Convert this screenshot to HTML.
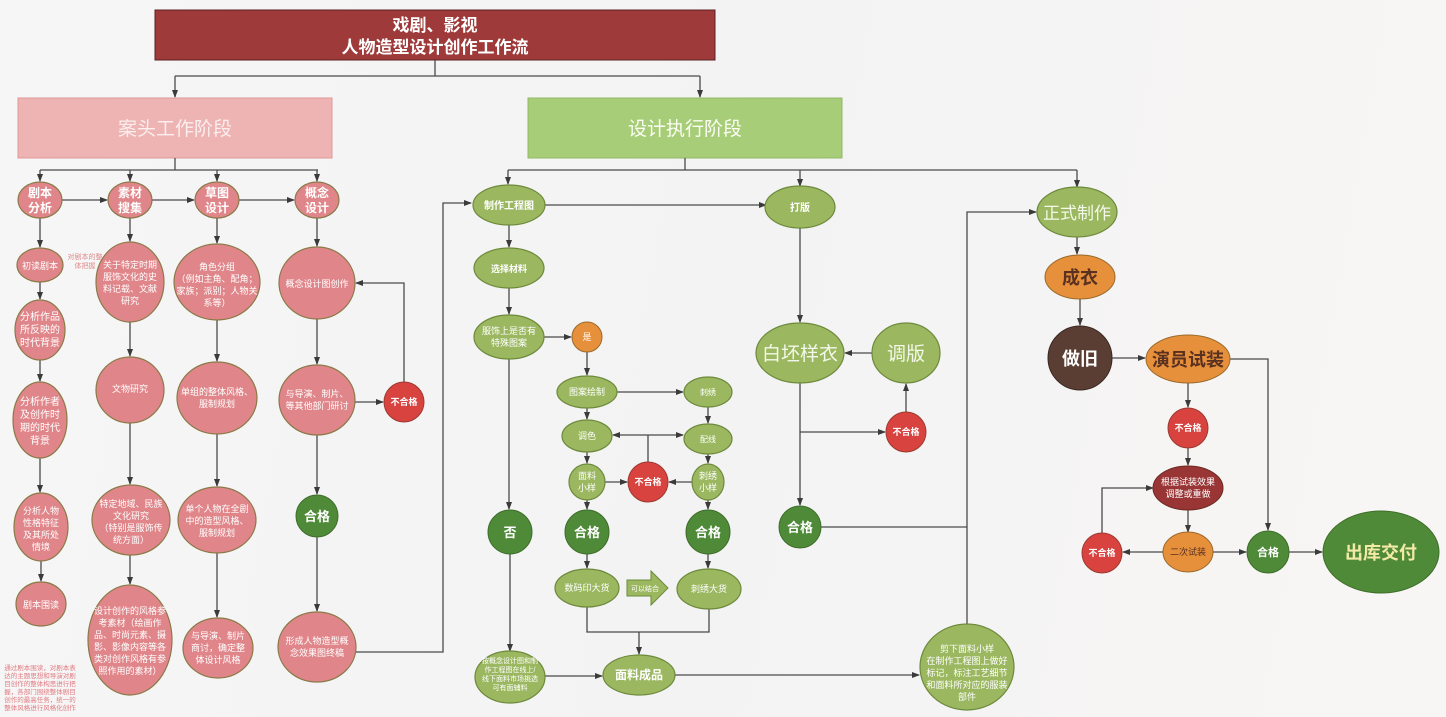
<!DOCTYPE html>
<html><head><meta charset="utf-8"><style>
html,body{margin:0;padding:0;}
body{width:1446px;height:717px;overflow:hidden;background:linear-gradient(100deg,#f7f6f6 0%,#f3f3f4 50%,#f8f6f4 100%);}
svg{display:block;font-family:"Liberation Sans","Noto Sans CJK SC",sans-serif;}
.p{fill:#e0868a;stroke:#8a7a48;stroke-width:1.2}
.g{fill:#9bb860;stroke:#6d8a3c;stroke-width:1.2}
.dg{fill:#4f8a38;stroke:#3e6e2a;stroke-width:1}
.r{fill:#d9433f;stroke:#9b3a30;stroke-width:1}
.o{fill:#e6903c;stroke:#9a6a2a;stroke-width:1}
.l{stroke:#4a4a4a;stroke-width:1.3;fill:none}
text{fill:#fff;text-anchor:middle}
.s{font-size:10px}
.m{font-size:9px}
.b{font-weight:bold;font-size:12px}
</style></head><body>
<svg width="1446" height="717" viewBox="0 0 1446 717">
<defs><marker id="a" markerWidth="8" markerHeight="8" refX="7" refY="4" orient="auto" markerUnits="userSpaceOnUse"><path d="M0,1 L8,4 L0,7z" fill="#3a3a3a"/></marker></defs>

<!-- title -->
<rect x="155" y="10" width="560" height="50" fill="#9f3a3a" stroke="#5a2020"/>
<text x="435" y="31" style="font-size:17px;font-weight:bold">戏剧、影视</text>
<text x="435" y="53" style="font-size:17px;font-weight:bold">人物造型设计创作工作流</text>
<path class="l" d="M435,60 V76 M175,76 H700"/>
<path class="l" d="M175,76 V97" marker-end="url(#a)"/><path class="l" d="M700,76 V97" marker-end="url(#a)"/>
<rect x="18" y="98" width="314" height="60" fill="#eeb3b3" stroke="#e09a9a"/>
<text x="175" y="135" style="font-size:19px;fill:#fbeeee">案头工作阶段</text>
<rect x="528" y="98" width="314" height="60" fill="#a8cd78" stroke="#92b866"/>
<text x="685" y="135" style="font-size:19px;fill:#fbfdf4">设计执行阶段</text>

<!-- left connectors -->
<path class="l" d="M175,158 V170 M40,170 H318"/>
<path class="l" d="M40,170 V181" marker-end="url(#a)"/><path class="l" d="M130,170 V181" marker-end="url(#a)"/>
<path class="l" d="M217,170 V181" marker-end="url(#a)"/><path class="l" d="M317,170 V181" marker-end="url(#a)"/>
<path class="l" d="M62,200 H107" marker-end="url(#a)"/><path class="l" d="M152,200 H194" marker-end="url(#a)"/><path class="l" d="M239,200 H294" marker-end="url(#a)"/>
<path class="l" d="M40,218 V247" marker-end="url(#a)"/><path class="l" d="M40,282 V299" marker-end="url(#a)"/><path class="l" d="M40,360 V381" marker-end="url(#a)"/><path class="l" d="M40,458 V492" marker-end="url(#a)"/><path class="l" d="M41,561 V581" marker-end="url(#a)"/>
<path class="l" d="M130,218 V241" marker-end="url(#a)"/><path class="l" d="M130,322 V356" marker-end="url(#a)"/><path class="l" d="M130,423 V484" marker-end="url(#a)"/><path class="l" d="M130,555 V584" marker-end="url(#a)"/>
<path class="l" d="M217,218 V243" marker-end="url(#a)"/><path class="l" d="M217,320 V361" marker-end="url(#a)"/><path class="l" d="M217,434 V486" marker-end="url(#a)"/><path class="l" d="M217,553 V617" marker-end="url(#a)"/>
<path class="l" d="M317,218 V246" marker-end="url(#a)"/><path class="l" d="M317,319 V364" marker-end="url(#a)"/><path class="l" d="M355,402 H383" marker-end="url(#a)"/><path class="l" d="M404,382 V283 H356" marker-end="url(#a)"/><path class="l" d="M317,435 V494" marker-end="url(#a)"/><path class="l" d="M317,537 V611" marker-end="url(#a)"/>
<path class="l" d="M356,652 H443 V203 H471" marker-end="url(#a)"/>

<!-- left nodes -->
<ellipse class="p" cx="40" cy="200" rx="22" ry="18"/><text class="b" x="40" y="197">剧本</text><text class="b" x="40" y="212">分析</text>
<ellipse class="p" cx="130" cy="200" rx="22" ry="18"/><text class="b" x="130" y="197">素材</text><text class="b" x="130" y="212">搜集</text>
<ellipse class="p" cx="217" cy="200" rx="22" ry="18"/><text class="b" x="217" y="197">草图</text><text class="b" x="217" y="212">设计</text>
<ellipse class="p" cx="317" cy="200" rx="22" ry="18"/><text class="b" x="317" y="197">概念</text><text class="b" x="317" y="212">设计</text>

<ellipse class="p" cx="40" cy="265" rx="23" ry="17"/><text class="m" x="40" y="269">初读剧本</text>
<text style="font-size:7px;fill:#e08a8c" x="85" y="259">对剧本的整</text><text style="font-size:7px;fill:#e08a8c" x="85" y="268">体把握</text>
<ellipse class="p" cx="40" cy="330" rx="25" ry="30"/><text class="s" x="40" y="320">分析作品</text><text class="s" x="40" y="333">所反映的</text><text class="s" x="40" y="346">时代背景</text>
<ellipse class="p" cx="40" cy="420" rx="27" ry="38"/><text class="s" x="40" y="405">分析作者</text><text class="s" x="40" y="418">及创作时</text><text class="s" x="40" y="431">期的时代</text><text class="s" x="40" y="444">背景</text>
<ellipse class="p" cx="41" cy="527" rx="27" ry="34"/><text class="m" x="41" y="514">分析人物</text><text class="m" x="41" y="526">性格特征</text><text class="m" x="41" y="538">及其所处</text><text class="m" x="41" y="550">情境</text>
<ellipse class="p" cx="41" cy="604" rx="25" ry="22"/><text class="m" x="41" y="608">剧本围读</text>
<g style="font-size:6.5px">
<text x="40" y="670" style="fill:#e07a80">通过剧本围读，对剧本表</text><text x="40" y="678" style="fill:#e07a80">达的主题思想和导演对剧</text><text x="40" y="686" style="fill:#e07a80">目创作的整体构思进行把</text><text x="40" y="694" style="fill:#e07a80">握，各部门围绕整体剧目</text><text x="40" y="702" style="fill:#e07a80">创作的最高任务，统一的</text><text x="40" y="710" style="fill:#e07a80">整体风格进行风格化创作</text></g>

<ellipse class="p" cx="130" cy="282" rx="34" ry="40"/><text class="m" x="130" y="268">关于特定时期</text><text class="m" x="130" y="280">服饰文化的史</text><text class="m" x="130" y="292">料记载、文献</text><text class="m" x="130" y="304">研究</text>
<ellipse class="p" cx="130" cy="390" rx="34" ry="33"/><text class="m" x="130" y="392">文物研究</text>
<ellipse class="p" cx="131" cy="520" rx="39" ry="35"/><text class="m" x="131" y="507">特定地域、民族</text><text class="m" x="131" y="519">文化研究</text><text class="m" x="131" y="531">（特别是服饰传</text><text class="m" x="131" y="543">统方面）</text>
<ellipse class="p" cx="130" cy="640" rx="42" ry="55"/><text class="m" x="130" y="614">设计创作的风格参</text><text class="m" x="130" y="626">考素材（绘画作</text><text class="m" x="130" y="638">品、时尚元素、摄</text><text class="m" x="130" y="650">影、影像内容等各</text><text class="m" x="130" y="662">类对创作风格有参</text><text class="m" x="130" y="674">照作用的素材）</text>

<ellipse class="p" cx="217" cy="282" rx="43" ry="38"/><text class="m" x="217" y="270">角色分组</text><text class="m" x="217" y="282">（例如主角、配角；</text><text class="m" x="217" y="294">家族；派别；人物关</text><text class="m" x="217" y="306">系等）</text>
<ellipse class="p" cx="217" cy="398" rx="40" ry="36"/><text class="m" x="217" y="395">单组的整体风格、</text><text class="m" x="217" y="407">服制规划</text>
<ellipse class="p" cx="217" cy="520" rx="39" ry="33"/><text class="m" x="217" y="512">单个人物在全剧</text><text class="m" x="217" y="524">中的造型风格、</text><text class="m" x="217" y="536">服制规划</text>
<ellipse class="p" cx="218" cy="648" rx="35" ry="30"/><text class="m" x="218" y="639">与导演、制片</text><text class="m" x="218" y="651">商讨，确定整</text><text class="m" x="218" y="663">体设计风格</text>

<ellipse class="p" cx="317" cy="283" rx="38" ry="36"/><text class="m" x="317" y="287">概念设计图创作</text>
<ellipse class="p" cx="317" cy="400" rx="38" ry="35"/><text class="m" x="317" y="397">与导演、制片、</text><text class="m" x="317" y="409">等其他部门研讨</text>
<circle class="r" cx="404" cy="402" r="20"/><text class="m" x="404" y="405" style="font-weight:bold">不合格</text>
<circle class="dg" cx="317" cy="516" r="21"/><text x="317" y="521" style="font-size:13px;font-weight:bold">合格</text>
<ellipse class="p" cx="317" cy="647" rx="39" ry="35"/><text class="m" x="317" y="644">形成人物造型概</text><text class="m" x="317" y="656">念效果图终稿</text>

<!-- right connectors -->
<path class="l" d="M685,158 V170 M508,170 H1077"/>
<path class="l" d="M508,170 V184" marker-end="url(#a)"/><path class="l" d="M800,170 V186" marker-end="url(#a)"/><path class="l" d="M1077,170 V187" marker-end="url(#a)"/>
<path class="l" d="M545,205 H766" marker-end="url(#a)"/>
<path class="l" d="M509,225 V247" marker-end="url(#a)"/><path class="l" d="M509,288 V314" marker-end="url(#a)"/>
<path class="l" d="M544,337 H571" marker-end="url(#a)"/><path class="l" d="M587,352 V375" marker-end="url(#a)"/>
<path class="l" d="M617,392 H683" marker-end="url(#a)"/><path class="l" d="M708,407 V423" marker-end="url(#a)"/>
<path class="l" d="M587,408 V419" marker-end="url(#a)"/>
<path class="l" d="M648,462 V435 M648,435 H613" marker-end="url(#a)"/><path class="l" d="M648,435 H683" marker-end="url(#a)"/>
<path class="l" d="M587,452 V463" marker-end="url(#a)"/><path class="l" d="M708,454 V463" marker-end="url(#a)"/>
<path class="l" d="M605,482 H627" marker-end="url(#a)"/><path class="l" d="M693,482 H669" marker-end="url(#a)"/>
<path class="l" d="M587,500 V509" marker-end="url(#a)"/><path class="l" d="M708,500 V509" marker-end="url(#a)"/>
<path class="l" d="M587,554 V568" marker-end="url(#a)"/><path class="l" d="M708,554 V568" marker-end="url(#a)"/>
<path class="l" d="M509,359 V509" marker-end="url(#a)"/><path class="l" d="M510,554 V651" marker-end="url(#a)"/>
<path class="l" d="M587,607 V632 H709 V609 M639,632 V654" marker-end="url(#a)"/>
<path class="l" d="M545,676 H602" marker-end="url(#a)"/>
<path class="l" d="M675,675 H919" marker-end="url(#a)"/>
<path class="l" d="M967,624 V212 H1036" marker-end="url(#a)"/>
<path class="l" d="M821,527 H967"/>
<path class="l" d="M800,227 V322" marker-end="url(#a)"/>
<path class="l" d="M872,353 H845" marker-end="url(#a)"/>
<path class="l" d="M800,383 V505" marker-end="url(#a)"/>
<path class="l" d="M800,432 H885" marker-end="url(#a)"/>
<path class="l" d="M906,412 V384" marker-end="url(#a)"/>
<path class="l" d="M1077,236 V254" marker-end="url(#a)"/><path class="l" d="M1080,299 V325" marker-end="url(#a)"/>
<path class="l" d="M1112,358 H1145" marker-end="url(#a)"/>
<path class="l" d="M1230,359 H1268 V530" marker-end="url(#a)"/>
<path class="l" d="M1188,383 V407" marker-end="url(#a)"/><path class="l" d="M1188,448 V465" marker-end="url(#a)"/><path class="l" d="M1188,510 V532" marker-end="url(#a)"/>
<path class="l" d="M1163,552 H1123" marker-end="url(#a)"/>
<path class="l" d="M1102,533 V488 H1153" marker-end="url(#a)"/>
<path class="l" d="M1213,552 H1246" marker-end="url(#a)"/><path class="l" d="M1289,552 H1322" marker-end="url(#a)"/>

<!-- right nodes -->
<ellipse class="g" cx="509" cy="205" rx="36" ry="20"/><text class="s" x="509" y="209" style="font-weight:bold">制作工程图</text>
<ellipse class="g" cx="800" cy="207" rx="35" ry="21"/><text class="s" x="800" y="211" style="font-weight:bold">打版</text>
<ellipse class="g" cx="1077" cy="212" rx="40" ry="25"/><text x="1077" y="219" style="font-size:17px;fill:#f4f8ea">正式制作</text>
<ellipse class="g" cx="509" cy="268" rx="35" ry="20"/><text class="m" x="509" y="272" style="font-weight:bold">选择材料</text>
<ellipse class="g" cx="509" cy="337" rx="35" ry="22"/><text class="m" x="509" y="334">服饰上是否有</text><text class="m" x="509" y="346">特殊图案</text>
<circle class="o" cx="587" cy="337" r="15"/><text class="m" x="587" y="340">是</text>
<ellipse class="g" cx="587" cy="392" rx="30" ry="16"/><text class="m" x="587" y="395">图案绘制</text>
<ellipse class="g" cx="708" cy="392" rx="24" ry="15"/><text x="708" y="395" style="font-size:8px">刺绣</text>
<ellipse class="g" cx="587" cy="436" rx="25" ry="16"/><text class="m" x="587" y="439">调色</text>
<ellipse class="g" cx="708" cy="439" rx="24" ry="15"/><text x="708" y="442" style="font-size:8px">配线</text>
<ellipse class="g" cx="587" cy="482" rx="18" ry="18"/><text class="m" x="587" y="479">面料</text><text class="m" x="587" y="491">小样</text>
<circle class="r" cx="648" cy="482" r="20"/><text class="m" x="648" y="485" style="font-weight:bold">不合格</text>
<ellipse class="g" cx="708" cy="482" rx="16" ry="18"/><text class="m" x="708" y="479">刺绣</text><text class="m" x="708" y="491">小样</text>
<circle class="dg" cx="510" cy="532" r="22"/><text x="510" y="537" style="font-size:13px;font-weight:bold">否</text>
<circle class="dg" cx="587" cy="532" r="22"/><text x="587" y="537" style="font-size:13px;font-weight:bold">合格</text>
<circle class="dg" cx="708" cy="532" r="22"/><text x="708" y="537" style="font-size:13px;font-weight:bold">合格</text>
<ellipse class="g" cx="587" cy="588" rx="32" ry="19"/><text class="m" x="587" y="591">数码印大货</text>
<path d="M627,580 H651 V571 L668,588 L651,605 V596 H627z" fill="#9bb860" stroke="#6d8a3c"/><text x="645" y="591" style="font-size:7px">可以结合</text>
<ellipse class="g" cx="709" cy="589" rx="32" ry="20"/><text class="m" x="709" y="592">刺绣大货</text>
<ellipse class="g" cx="510" cy="677" rx="35" ry="26"/><text x="510" y="663" style="font-size:7px">按概念设计图和制</text><text x="510" y="672" style="font-size:7px">作工程图在线上/</text><text x="510" y="681" style="font-size:7px">线下面料市场挑选</text><text x="510" y="690" style="font-size:7px">可有面辅料</text>
<ellipse class="g" cx="639" cy="675" rx="36" ry="20"/><text class="b" x="639" y="679">面料成品</text>
<ellipse class="g" cx="967" cy="667" rx="47" ry="43"/><text class="m" x="967" y="652">剪下面料小样</text><text class="m" x="967" y="664">在制作工程图上做好</text><text class="m" x="967" y="676">标记，标注工艺细节</text><text class="m" x="967" y="688">和面料所对应的服装</text><text class="m" x="967" y="700">部件</text>

<ellipse class="g" cx="800" cy="353" rx="44" ry="30"/><text x="800" y="360" style="font-size:19px;fill:#f4f8ea">白坯样衣</text>
<ellipse class="g" cx="906" cy="353" rx="34" ry="30"/><text x="906" y="360" style="font-size:19px;fill:#f4f8ea">调版</text>
<circle class="r" cx="906" cy="432" r="20"/><text class="m" x="906" y="435" style="font-weight:bold">不合格</text>
<circle class="dg" cx="800" cy="527" r="21"/><text x="800" y="532" style="font-size:13px;font-weight:bold">合格</text>

<ellipse class="o" cx="1080" cy="277" rx="35" ry="22"/><text x="1080" y="284" style="font-size:18px;font-weight:bold;fill:#5a3020">成衣</text>
<circle cx="1080" cy="358" r="32" fill="#5a3e33" stroke="#3a2820"/><text x="1080" y="365" style="font-size:18px;font-weight:bold">做旧</text>
<ellipse class="o" cx="1188" cy="359" rx="42" ry="24"/><text x="1188" y="366" style="font-size:18px;font-weight:bold;fill:#5a3020">演员试装</text>
<circle class="r" cx="1188" cy="428" r="20"/><text class="m" x="1188" y="431" style="font-weight:bold">不合格</text>
<ellipse cx="1188" cy="488" rx="35" ry="22" fill="#9a3535" stroke="#6a2a20"/><text class="m" x="1188" y="485">根据试装效果</text><text class="m" x="1188" y="497">调整或重做</text>
<ellipse class="o" cx="1188" cy="552" rx="25" ry="20"/><text class="m" x="1188" y="555" style="fill:#5a3020">二次试装</text>
<circle class="r" cx="1102" cy="553" r="20"/><text class="m" x="1102" y="556" style="font-weight:bold">不合格</text>
<circle class="dg" cx="1268" cy="552" r="21"/><text x="1268" y="556" style="font-size:11px;font-weight:bold">合格</text>
<ellipse class="dg" cx="1381" cy="552" rx="58" ry="41"/><text x="1381" y="559" style="font-size:18px;font-weight:bold;fill:#f3eaa6">出库交付</text>
</svg>
</body></html>
